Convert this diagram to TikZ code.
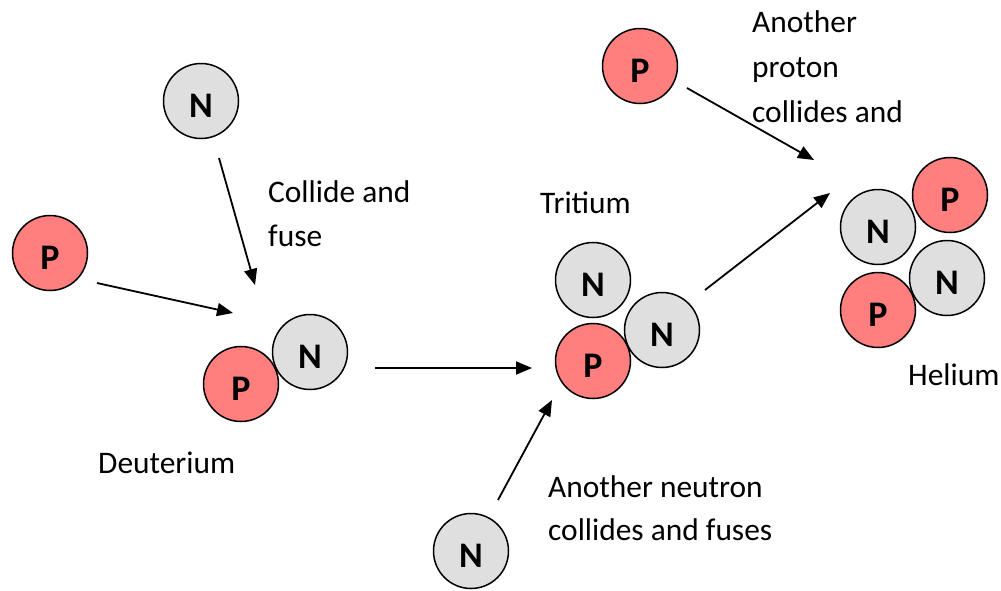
\documentclass[tikz,border=0pt]{standalone}
\usepackage{fontspec}
\setmainfont{Carlito}
\usetikzlibrary{arrows.meta}
\definecolor{protonred}{HTML}{FF7F7F}
\definecolor{neutrongray}{HTML}{DFDFDF}
\begin{document}
\begin{tikzpicture}[x=1pt,y=-1pt,
 particle/.style={circle,draw=black,line width=1.5pt,minimum size=75pt,inner sep=0pt,text height=33pt,text depth=0pt,font=\fontsize{36}{40}\selectfont\bfseries},
 proton/.style={particle,fill=protonred},
 neutron/.style={particle,fill=neutrongray},
 arr/.style={line width=1.8pt,-{Triangle[length=16pt,width=13pt]}},
 lbl/.style={anchor=base west,inner sep=0pt,font=\fontsize{31.4}{44}\selectfont}]
\useasboundingbox (0,0) rectangle (1001,590);
% free particles
\node[neutron] (n1) at (201,101) {N};
\node[proton] (p1) at (50,253) {P};
\node[proton] (p2) at (640,66) {P};
\node[neutron] (n2) at (471,551) {N};
% deuterium
\node[neutron] (dn) at (310,352) {N};
\node[proton] (dp) at (241,384) {P};
% tritium
\node[neutron] (tn1) at (593,280) {N};
\node[neutron] (tn2) at (662,330) {N};
\node[proton] (tp) at (593,361) {P};
% helium
\node[neutron] (hn1) at (878,227) {N};
\node[neutron] (hn2) at (947,278) {N};
\node[proton] (hp1) at (950,195) {P};
\node[proton] (hp2) at (878,310) {P};
% arrow end points
\coordinate (a1s) at (219,158); \coordinate (a1e) at (255,285);
\coordinate (a2s) at (97,283);  \coordinate (a2e) at (233,313);
\coordinate (a3s) at (375,368); \coordinate (a3e) at (532,368);
\coordinate (a4s) at (498,500); \coordinate (a4e) at (552,400);
\coordinate (a5s) at (705,290); \coordinate (a5e) at (830,193);
\coordinate (a6s) at (687,88);  \coordinate (a6e) at (814,160);
\draw[arr] (a1s) -- (a1e);
\draw[arr] (a2s) -- (a2e);
\draw[arr] (a3s) -- (a3e);
\draw[arr] (a4s) -- (a4e);
\draw[arr] (a5s) -- (a5e);
\draw[arr] (a6s) -- (a6e);
% labels
\node[lbl] (c1) at (268,202) {Collide and};
\node[lbl] (c2) at (268,246) {fuse};
\node[lbl] (tri) at (540,213) {Tritium};
\node[lbl] (deu) at (98,473) {Deuterium};
\node[lbl] (an1) at (548,497) {Another neutron};
\node[lbl] (an2) at (548,540) {collides and fuses};
\node[lbl] (ap1) at (752,32) {Another};
\node[lbl] (ap2) at (752,77) {proton};
\node[lbl] (ap3) at (752,122) {collides and};
\node[lbl] (hel) at (908,385) {Helium};
\end{tikzpicture}
\end{document}
